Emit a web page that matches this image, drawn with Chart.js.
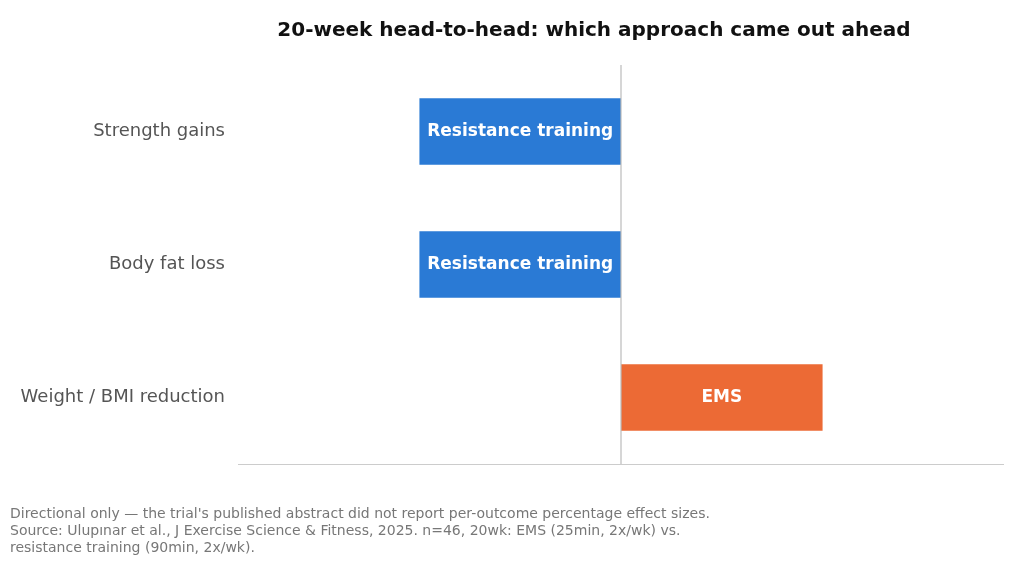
<!DOCTYPE html>
<html><head><meta charset="utf-8">
<script src="https://cdn.jsdelivr.net/npm/chart.js@4/dist/chart.umd.min.js"></script>
<style>
html,body{margin:0;padding:0;background:#fff;}
#wrap{position:relative;width:1024px;height:566px;}
#note{position:absolute;left:10px;top:505px;font:14px "DejaVu Sans",sans-serif;color:#777;line-height:17px;}
</style></head><body>
<div id="wrap"><canvas id="c" width="1024" height="566"></canvas>
<div id="note">Directional only — the trial's published abstract did not report per-outcome percentage effect sizes.<br>Source: Ulupınar et al., J Exercise Science &amp; Fitness, 2025. n=46, 20wk: EMS (25min, 2x/wk) vs.<br>resistance training (90min, 2x/wk).</div></div>
<script>
const categories = ["Strength gains", "Body fat loss", "Weight / BMI reduction"];
const values = [-1, -1, 1];
const winners = ["Resistance training", "Resistance training", "EMS"];
const colors = ["#2a7ad5", "#2a7ad5", "#ec6a35"];
const titleText = "20-week head-to-head: which approach came out ahead";

const deco = {
  id: "deco",
  afterDatasetsDraw(chart) {
    const ctx = chart.ctx, meta = chart.getDatasetMeta(0);
    ctx.save();
    ctx.font = "bold 17px 'DejaVu Sans', sans-serif";
    ctx.fillStyle = "#fff"; ctx.textAlign = "center"; ctx.textBaseline = "middle";
    meta.data.forEach((b, i) => {
      ctx.fillText(winners[i], (b.x + b.base) / 2, b.y);
    });
    const xs = chart.scales.x, a = chart.chartArea;
    ctx.strokeStyle = "#bbb"; ctx.lineWidth = 1.2;
    const x0 = xs.getPixelForValue(0);
    ctx.beginPath(); ctx.moveTo(x0, a.top); ctx.lineTo(x0, a.bottom); ctx.stroke();
    ctx.strokeStyle = "#ccc";
    ctx.beginPath(); ctx.moveTo(a.left, a.bottom + 0.5); ctx.lineTo(a.right, a.bottom + 0.5); ctx.stroke();
    ctx.font = "bold 20px 'DejaVu Sans', sans-serif";
    ctx.fillStyle = "#111";
    ctx.fillText(titleText, 594, 31);
    ctx.restore();
  }
};

new Chart(document.getElementById("c"), {
  type: "bar",
  data: { labels: categories, datasets: [{ data: values, backgroundColor: colors, barPercentage: 0.5, categoryPercentage: 1 }] },
  options: {
    indexAxis: "y", responsive: false, animation: false,
    layout: { padding: { top: 65, bottom: 94, right: 20 } },
    plugins: { legend: { display: false }, tooltip: { enabled: false } },
    scales: {
      x: { min: -1.9, max: 1.9, grid: { display: false }, border: { display: false }, ticks: { display: false } },
      y: { grid: { display: false }, border: { display: false },
           ticks: { color: "#555", font: { size: 18, family: "DejaVu Sans" }, padding: 5 },
           afterFit(s) { s.width = 238; } }
    }
  },
  plugins: [deco]
});
</script></body></html>
